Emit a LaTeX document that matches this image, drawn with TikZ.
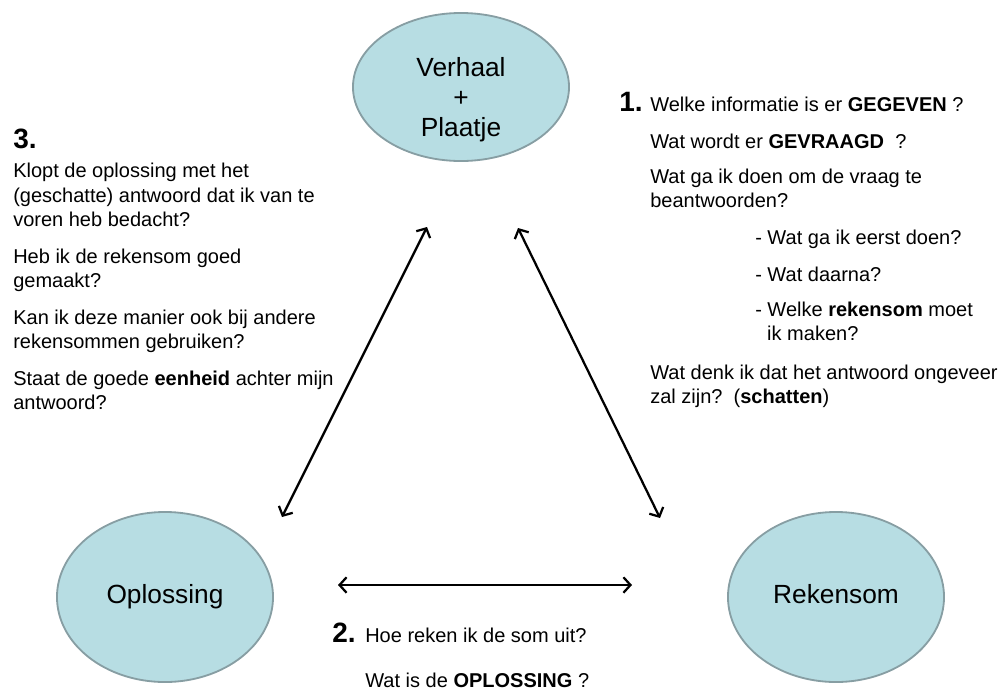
\documentclass[tikz,border=0pt]{standalone}
\usepackage{fontspec}
\setmainfont{Liberation Sans}
\usetikzlibrary{shapes.geometric,arrows.meta}
\definecolor{bolvulling}{RGB}{183,221,227}
\definecolor{bolrand}{RGB}{135,158,163}

\begin{document}
\begin{tikzpicture}[x=0.025cm,y=-0.025cm]
    % Styles
    \tikzstyle{pijl}=[{Straight Barb[length=5pt,width=11pt]}-{Straight Barb[length=5pt,width=11pt]},line width=1.6pt]
    \tikzstyle{bol}=[ellipse,draw=bolrand,fill=bolvulling,line width=1.3pt,inner sep=0pt,align=center,font=\fontsize{18.7}{21.3}\selectfont]
    \tikzstyle{boltekst}=[align=center,inner sep=0pt,font=\fontsize{18.7}{21.3}\selectfont]
    \tikzstyle{nummer}=[anchor=base west,inner sep=0pt,font=\fontsize{19.9}{24}\selectfont\bfseries]
    \tikzstyle{vraag}=[anchor=base west,inner sep=0pt,align=left,font=\fontsize{14.23}{17.07}\selectfont]
    % Afmetingen
    \def\BolBreedte{5.4cm}
    \useasboundingbox (0,0) rectangle (1000,692);
    % Bollen
    \node[bol,minimum width=\BolBreedte,minimum height=3.7cm,
          label={[boltekst,yshift=-9pt]center:Verhaal\\+\\Plaatje}] (V) at (461,87) {};
    \node[bol,minimum width=\BolBreedte,minimum height=4.25cm] (O) at (165,597) {Oplossing\strut};
    \node[bol,minimum width=\BolBreedte,minimum height=4.25cm] (R) at (836,597) {Rekensom\strut};
    % Eindpunten van de pijlen
    \coordinate (VO) at (427,227);
    \coordinate (OV) at (282,517);
    \coordinate (VR) at (518,228);
    \coordinate (RV) at (660,518);
    \coordinate (OR) at (338,585);
    \coordinate (RO) at (632,585);
    % Vragen 1 (meerregelige knopen: basislijn van de laatste regel)
    \node[nummer] (n1) at (619,111) {1.};
    \node[vraag] (q1a) at (650,111) {Welke informatie is er \textbf{GEGEVEN} ?};
    \node[vraag] (q1b) at (650,148) {Wat wordt er \textbf{GEVRAAGD}\ \ ?};
    \node[vraag] (q1c) at (650,207) {Wat ga ik doen om de vraag te\\beantwoorden?};
    \node[vraag] (q1d) at (755,244) {- Wat ga ik eerst doen?};
    \node[vraag] (q1e) at (755,281) {- Wat daarna?};
    \node[vraag] (q1f) at (755,340) {- Welke \textbf{rekensom} moet\\\hspace*{8.5pt}ik maken?};
    \node[vraag] (q1g) at (650,403) {Wat denk ik dat het antwoord ongeveer\\zal zijn?\ \ (\textbf{schatten})};
    % Vragen 2
    \node[nummer] (n2) at (332,642) {2.};
    \node[vraag] (q2a) at (365,642) {Hoe reken ik de som uit?};
    \node[vraag] (q2b) at (365,687) {Wat is de \textbf{OPLOSSING} ?};
    % Vragen 3
    \node[nummer] (n3) at (13,148) {3.};
    \node[vraag] (q3a) at (13,226) {Klopt de oplossing met het\\(geschatte) antwoord dat ik van te\\voren heb bedacht?};
    \node[vraag] (q3b) at (13,287) {Heb ik de rekensom goed\\gemaakt?};
    \node[vraag] (q3c) at (13,348) {Kan ik deze manier ook bij andere\\rekensommen gebruiken?};
    \node[vraag] (q3d) at (13,409) {Staat de goede \textbf{eenheid} achter mijn\\antwoord?};
    % Pijlen
    \draw[pijl] (VO)--(OV);
    \draw[pijl] (VR)--(RV);
    \draw[pijl] (OR)--(RO);
\end{tikzpicture}
\end{document}
